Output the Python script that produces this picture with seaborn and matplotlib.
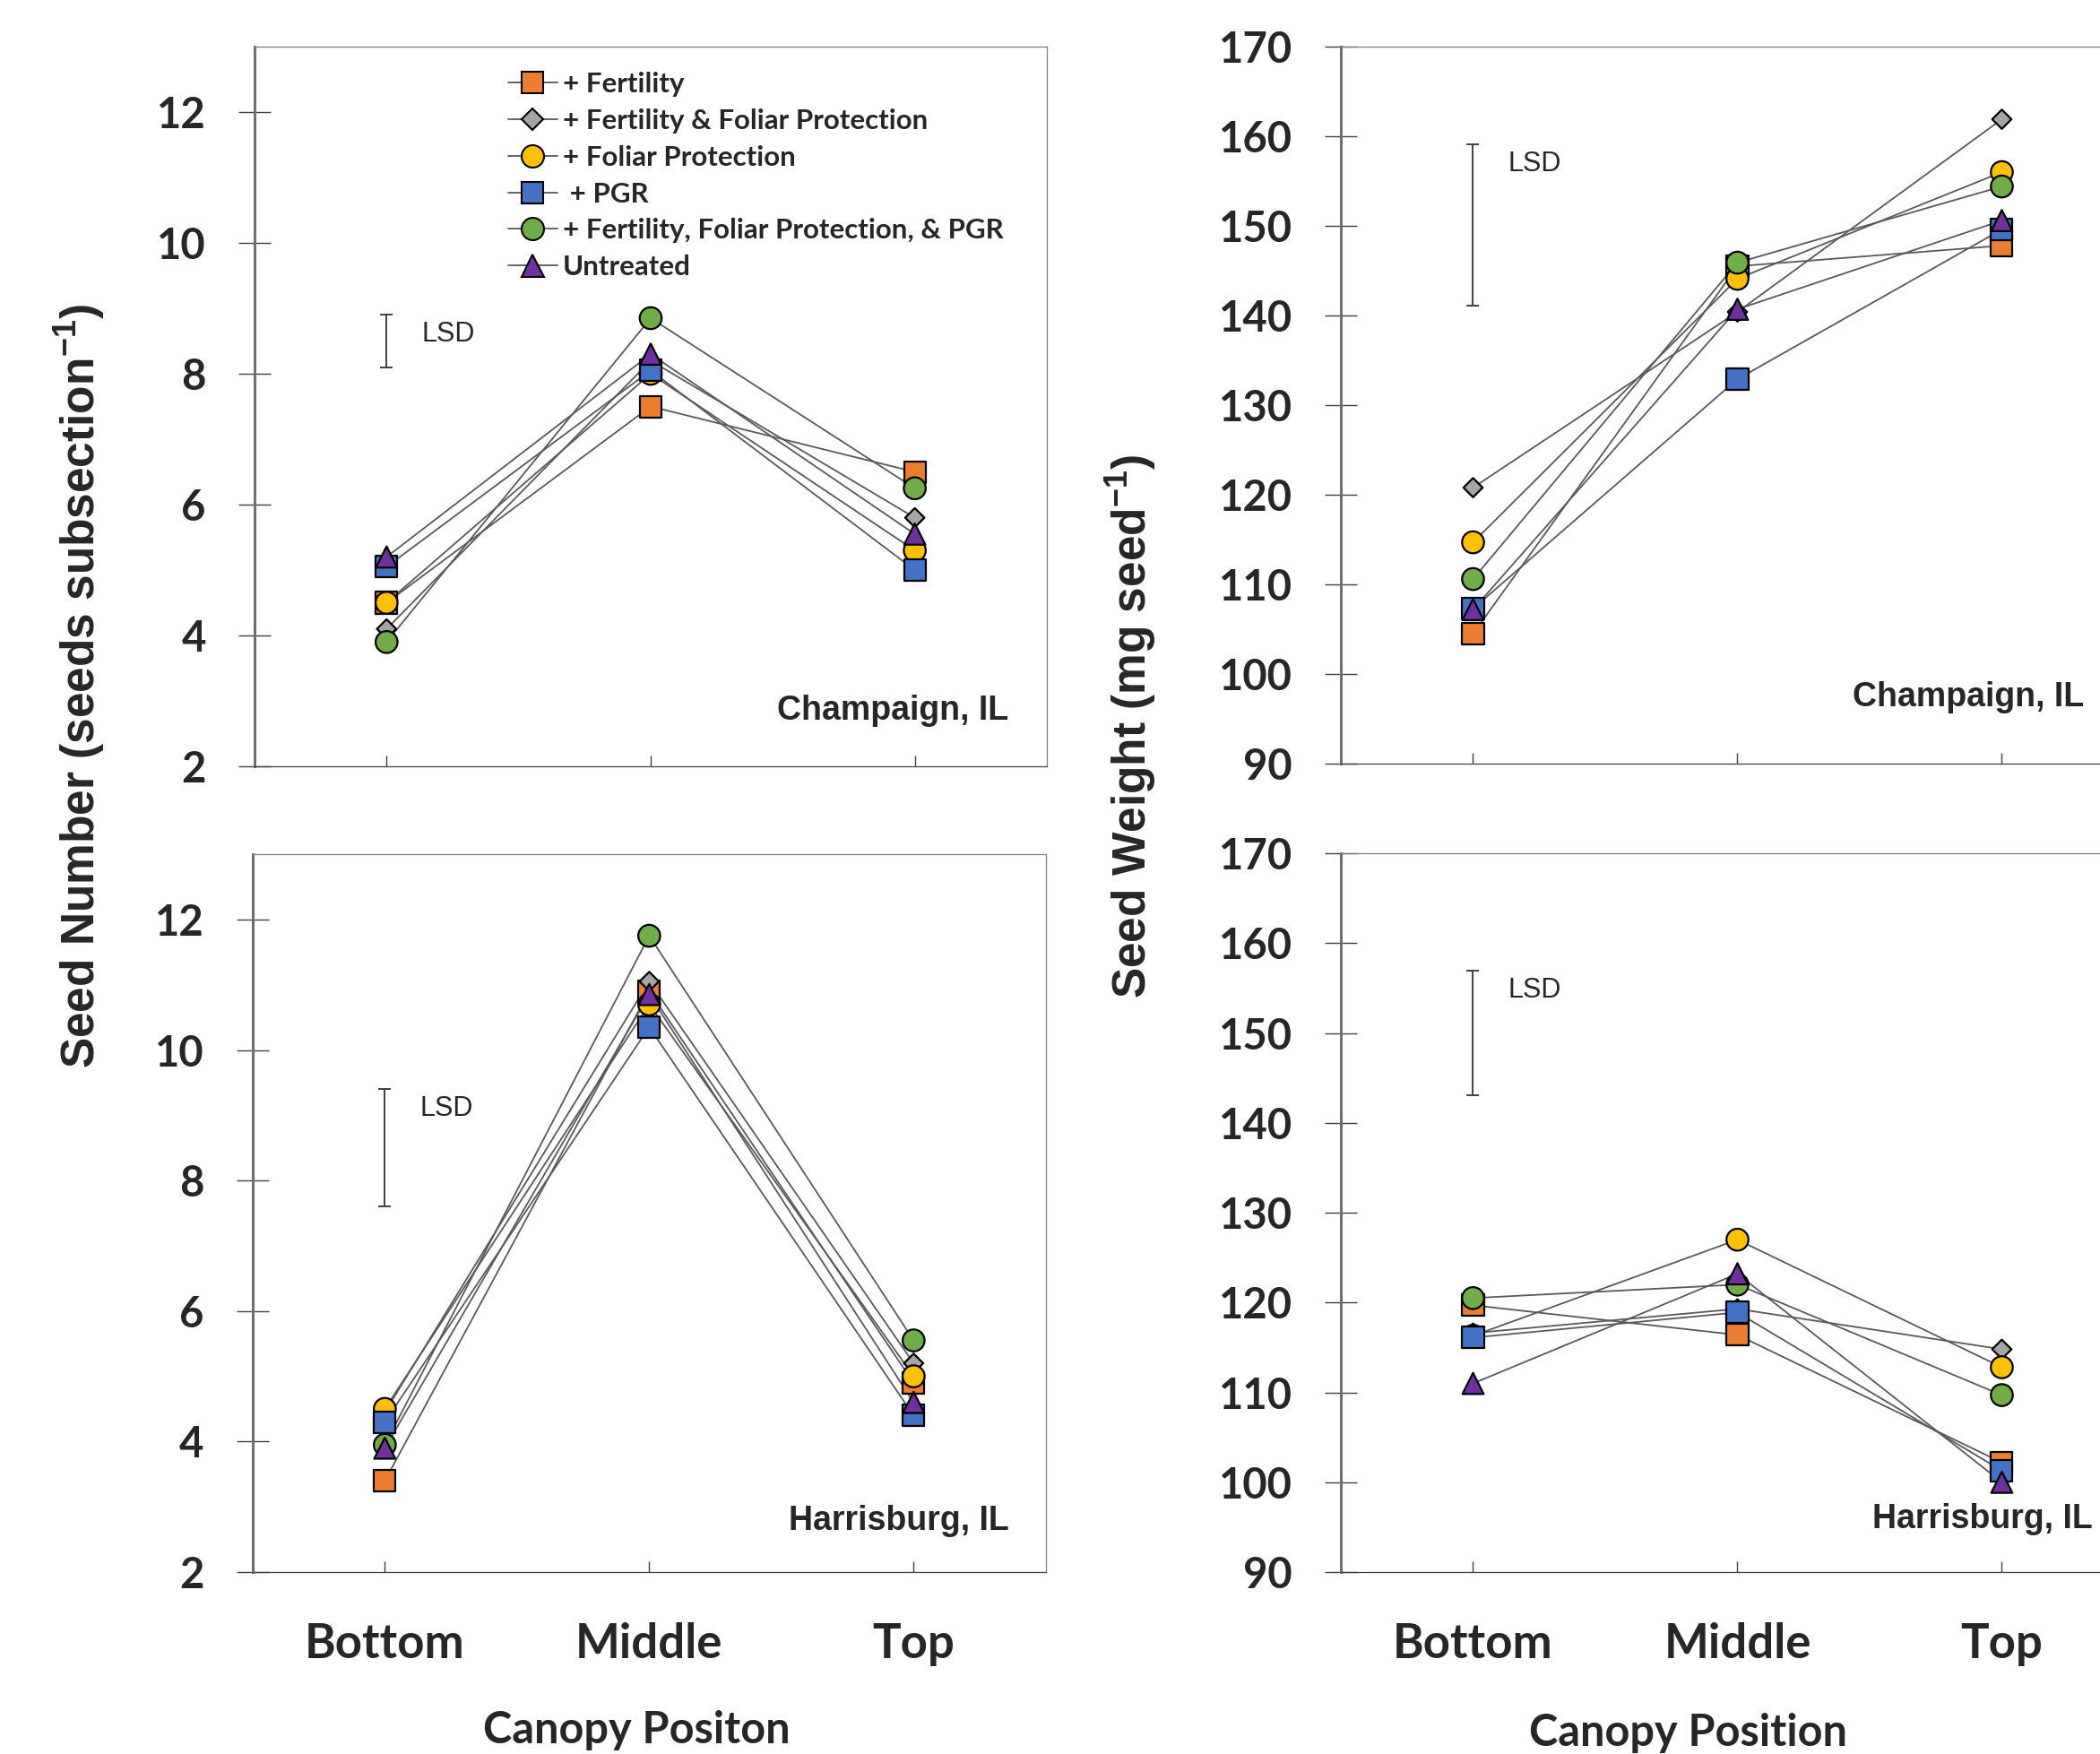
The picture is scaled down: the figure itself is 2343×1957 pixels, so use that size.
import numpy as np
import pandas as pd
import matplotlib
matplotlib.use('Agg')
import matplotlib.pyplot as plt
from matplotlib.lines import Line2D
import seaborn as sns

# categories and treatments
positions = ['Bottom', 'Middle', 'Top']
treatments = ['+ Fertility', '+ Fertility & Foliar Protection', '+ Foliar Protection',
              '+ PGR', '+ Fertility, Foliar Protection, & PGR', 'Untreated']
legend_labels = ['+ Fertility', '+ Fertility & Foliar Protection', '+ Foliar Protection',
                 ' + PGR', '+ Fertility, Foliar Protection, & PGR', 'Untreated']

# values, one row per treatment (Bottom, Middle, Top)
champaign_number = [[4.5, 7.5, 6.5],
                    [4.1, 8.2, 5.8],
                    [4.5, 8.0, 5.3],
                    [5.05, 8.05, 5.0],
                    [3.9, 8.85, 6.25],
                    [5.2, 8.3, 5.55]]
harrisburg_number = [[3.4, 10.9, 4.9],
                     [4.45, 11.05, 5.2],
                     [4.5, 10.7, 5.0],
                     [4.3, 10.35, 4.4],
                     [3.95, 11.75, 5.55],
                     [3.9, 10.85, 4.6]]
champaign_weight = [[104.5, 145.5, 147.8],
                    [120.8, 140.4, 161.9],
                    [114.7, 144.1, 156.0],
                    [107.3, 132.9, 149.6],
                    [110.6, 145.9, 154.4],
                    [107.2, 140.7, 150.6]]
harrisburg_weight = [[119.7, 116.4, 102.2],
                     [116.6, 119.3, 114.8],
                     [116.3, 127.0, 112.8],
                     [116.1, 118.9, 101.3],
                     [120.5, 122.0, 109.7],
                     [111.0, 123.2, 100.0]]

# LSD bars (centre, full length) for each panel
lsd_center = [8.5, 8.5, 150.1, 150.0]
lsd_value = [0.82, 1.8, 18.0, 13.9]

number_ticks = [2, 4, 6, 8, 10, 12]
weight_ticks = [90, 100, 110, 120, 130, 140, 150, 160, 170]

colors = ['#ED7D31', '#A5A5A5', '#FFC000', '#4472C4', '#70AD47', '#7030A0']
markers = ['s', 'D', 'o', 's', 'o', '^']
msizes = [300, 120, 310, 300, 310, 290]
leg_ms = [17, 12, 18, 17, 18, 18]
line_color = '#595959'

sns.set_theme(style='white')
plt.rcParams['font.family'] = ['Lato', 'DejaVu Sans']
plt.rcParams['font.weight'] = 'bold'
plt.rcParams['mathtext.fontset'] = 'custom'
plt.rcParams['mathtext.rm'] = 'Liberation Sans:bold'
plt.rcParams['mathtext.bf'] = 'Liberation Sans:bold'
plt.rcParams['mathtext.default'] = 'bf'


def make_frame(values):
    rows = []
    for t, vals in zip(treatments, values):
        for p, v in zip(positions, vals):
            rows.append({'treatment': t, 'position': p, 'value': v})
    return pd.DataFrame(rows)


def draw_panel(ax, values, yticks, idx, site, site_xy, xlabels):
    df = make_frame(values)
    sns.lineplot(data=df, x='position', y='value', units='treatment', estimator=None,
                 color=line_color, linewidth=1.3, sort=False, legend=False, ax=ax, zorder=2)
    sns.scatterplot(data=df, x='position', y='value', hue='treatment', style='treatment',
                    size='treatment', hue_order=treatments, style_order=treatments,
                    size_order=treatments, palette=dict(zip(treatments, colors)),
                    markers=dict(zip(treatments, markers)), sizes=dict(zip(treatments, msizes)),
                    edgecolor='black', linewidth=1.6, legend=False, ax=ax, zorder=3)
    # LSD bar at the Bottom position
    ax.errorbar([positions[0]], [lsd_center[idx]], yerr=[lsd_value[idx] / 2], fmt='none',
                ecolor='#333333', elinewidth=1.3, capsize=5, capthick=1.3, zorder=2)
    ax.annotate('LSD', xy=(0, lsd_center[idx] + lsd_value[idx] / 2), xytext=(28, -16),
                textcoords='offset points', ha='left', va='center', fontsize=22,
                fontweight='normal', family=['Liberation Sans', 'DejaVu Sans'])
    ax.text(site_xy[0], site_xy[1], site, transform=ax.transAxes, ha='right', va='baseline',
            fontsize=27, fontweight='bold', family=['Liberation Sans', 'DejaVu Sans'])

    ax.set_xlim(-0.5, 2.5)
    ax.set_ylim(yticks[0], yticks[-1] + (1 if yticks[-1] < 20 else 0))
    ax.set_yticks(yticks)
    ax.set_xlabel('')
    ax.set_ylabel('')
    ax.tick_params(axis='y', direction='inout', length=26, width=1.0, color='#404040',
                   pad=26, labelsize=34, left=True)
    ax.tick_params(axis='x', direction='in', length=9, width=1.0, color='#404040',
                   pad=40, labelsize=38, bottom=True, labelbottom=xlabels)
    for s in ['top', 'right', 'bottom']:
        ax.spines[s].set_color('#7f7f7f')
        ax.spines[s].set_linewidth(0.9)
    ax.spines['bottom'].set_color('#404040')
    ax.spines['left'].set_color('#6f6f6f')
    ax.spines['left'].set_linewidth(2.2)
    for lab in ax.get_yticklabels() + ax.get_xticklabels():
        lab.set_fontweight('bold')


fig = plt.figure(figsize=(23.43, 19.57), dpi=100)
ax_lt = fig.add_axes([0.1212, 0.5631, 0.3773, 0.4103])
ax_lb = fig.add_axes([0.1203, 0.1037, 0.3777, 0.4093])
ax_rt = fig.add_axes([0.6385, 0.5646, 0.3777, 0.4088])
ax_rb = fig.add_axes([0.6385, 0.1037, 0.3777, 0.4098])

draw_panel(ax_lt, champaign_number, number_ticks, 0, 'Champaign, IL', (0.951, 0.065), False)
draw_panel(ax_lb, harrisburg_number, number_ticks, 1, 'Harrisburg, IL', (0.954, 0.059), True)
draw_panel(ax_rt, champaign_weight, weight_ticks, 2, 'Champaign, IL', (0.937, 0.080), False)
draw_panel(ax_rb, harrisburg_weight, weight_ticks, 3, 'Harrisburg, IL', (0.948, 0.061), True)

handles = [Line2D([0], [0], color=line_color, linewidth=1.3, marker=m, markersize=ms,
                  markerfacecolor=c, markeredgecolor='black', markeredgewidth=1.5)
           for m, ms, c in zip(markers, leg_ms, colors)]
ax_lt.legend(handles, legend_labels, loc='upper left', bbox_to_anchor=(0.32, 0.965),
             frameon=False, handlelength=1.75, handletextpad=0.2,
             labelspacing=0.41, borderpad=0, borderaxespad=0,
             prop={'family': ['Lato', 'DejaVu Sans'], 'weight': 'bold', 'size': 22.5})

fig.text(0.038, 0.609, 'Seed Number (seeds subsection$^{-1}$)', rotation=90, ha='center',
         va='center', fontsize=37, fontweight='bold', family=['Liberation Sans', 'DejaVu Sans'])
fig.text(0.5386, 0.586, 'Seed Weight (mg seed$^{-1}$)', rotation=90, ha='center',
         va='center', fontsize=37, fontweight='bold', family=['Liberation Sans', 'DejaVu Sans'])
fig.text(0.303, 0.006, 'Canopy Positon', ha='center', va='baseline', fontsize=35,
         fontweight='bold')
fig.text(0.8037, 0.0045, 'Canopy Position', ha='center', va='baseline', fontsize=35,
         fontweight='bold')

fig.savefig('out.png', dpi=100, facecolor='white')
